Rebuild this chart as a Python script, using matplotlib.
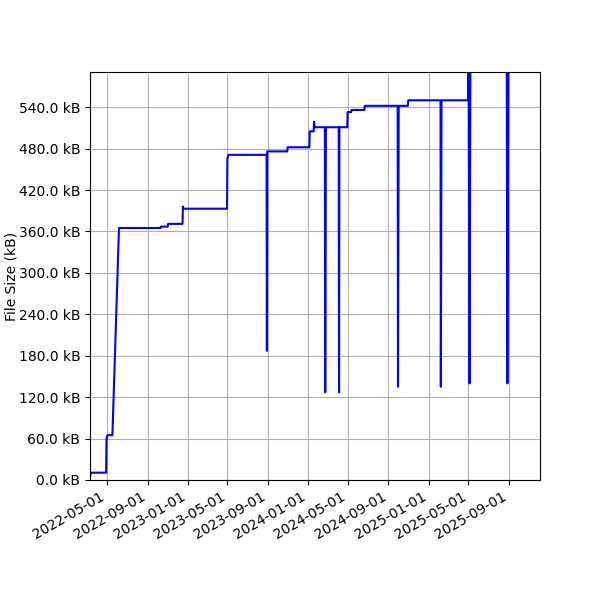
import numpy as np
import pandas as pd
import matplotlib
matplotlib.use('Agg')
import matplotlib.pyplot as plt
import matplotlib.dates as mdates
from matplotlib.ticker import MultipleLocator, FuncFormatter

#File size history (kB)
dates = ["2022-03-12", "2022-03-14", "2022-04-28", "2022-04-29", "2022-05-02",
         "2022-05-17", "2022-06-06", "2022-10-10", "2022-10-11", "2022-11-01",
         "2022-11-02", "2022-12-16", "2022-12-17", "2022-12-19", "2023-04-30",
         "2023-05-01", "2023-05-04", "2023-08-28", "2023-08-29", "2023-08-30",
         "2023-10-30", "2023-10-31", "2024-01-05", "2024-01-06", "2024-01-18",
         "2024-01-19", "2024-01-21", "2024-02-21", "2024-02-22", "2024-02-24",
         "2024-04-03", "2024-04-04", "2024-04-05", "2024-04-29", "2024-04-30",
         "2024-05-11", "2024-05-12", "2024-06-20", "2024-06-21", "2024-09-29",
         "2024-09-30", "2024-10-02", "2024-10-30", "2024-10-31", "2025-02-06",
         "2025-02-07", "2025-02-09", "2025-05-01", "2025-05-02", "2025-05-05",
         "2025-05-08", "2025-08-26", "2025-08-28", "2025-08-31", "2025-12-05"]
sizes = [8.5, 10.6, 10.6, 59, 65,
         65, 365, 365, 367, 367,
         371, 371, 396, 393, 393,
         465, 471, 471, 187, 476,
         476, 482, 482, 505, 505,
         519, 511, 511, 127, 511,
         511, 127, 511, 511, 533,
         533, 536, 536, 542, 542,
         135, 542, 542, 550, 550,
         135, 550, 550, 640, 140,
         640, 640, 140, 650, 660]

x = pd.to_datetime(dates)

fig, ax = plt.subplots(figsize=(6, 6), dpi=100)
ax.plot(x, sizes, color='blue', linewidth=1.5)

ax.set_xlim(pd.Timestamp("2022-03-10"), pd.Timestamp("2025-12-05"))
ax.set_ylim(0, 591)
ax.yaxis.set_major_locator(MultipleLocator(60))
ax.yaxis.set_major_formatter(FuncFormatter(lambda v, p: f"{v:.1f} kB"))
ax.xaxis.set_major_locator(mdates.MonthLocator(bymonth=(1, 5, 9)))
ax.xaxis.set_major_formatter(mdates.DateFormatter('%Y-%m-%d'))
ax.set_ylabel("File Size (kB)", labelpad=0)
ax.grid(True)

fig.autofmt_xdate()
fig.subplots_adjust(left=0.15, right=0.9, top=0.88, bottom=0.2)
fig.savefig("out.png")
